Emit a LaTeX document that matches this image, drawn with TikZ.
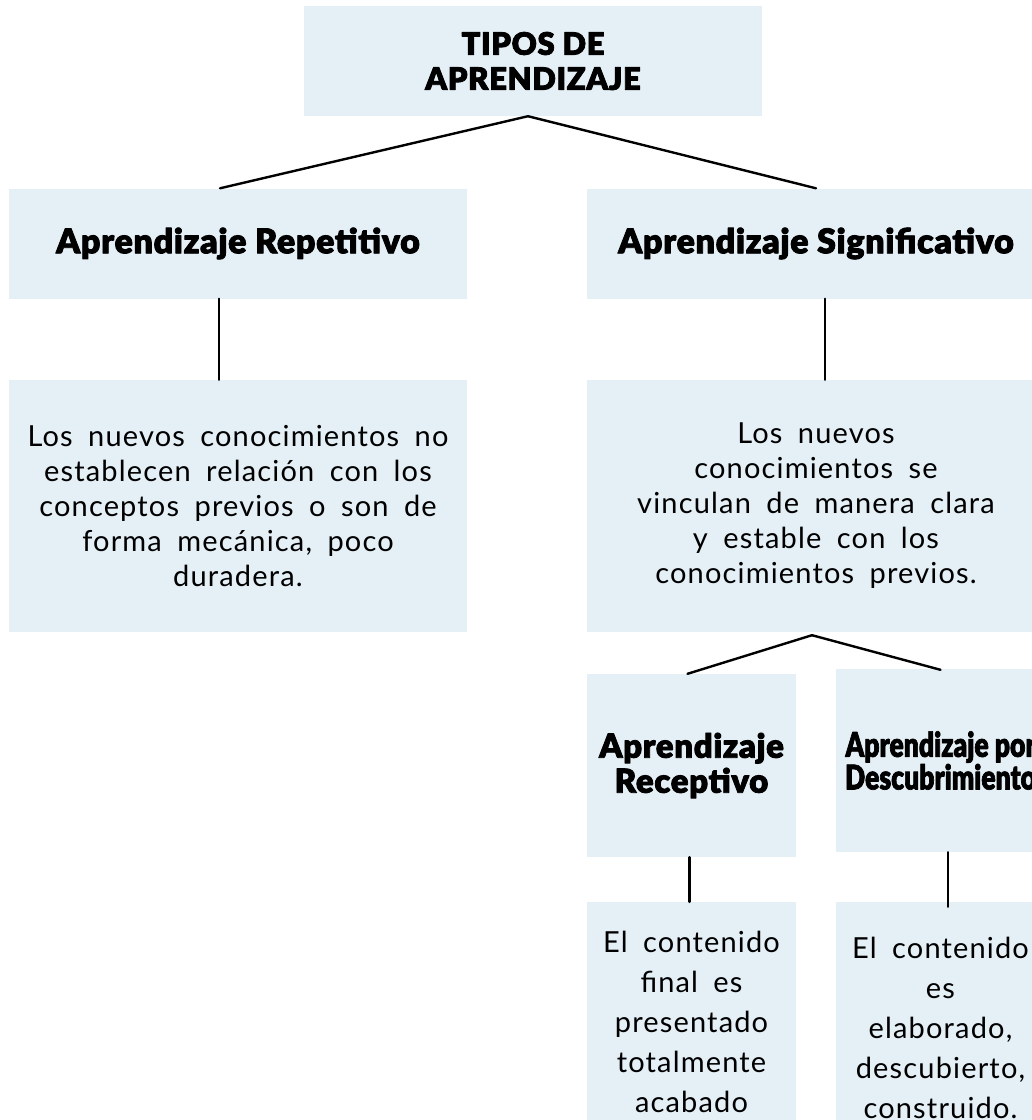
\documentclass[tikz,border=0pt]{standalone}
\usepackage{fontspec}
\setmainfont{Lato}
\newfontfamily\headfont{Lato Black}[FakeBold=2.5, LetterSpace=2]
\newfontfamily\headcond{Lato Black}[FakeBold=2, FakeStretch=0.78]
\newfontfamily\bodyfont{Lato}[LetterSpace=4, WordSpace=1.8]
\usetikzlibrary{calc}
\definecolor{boxblue}{RGB}{228,239,246}
\def\bw{458}
\def\bh{110}
\def\sw{209}

\begin{document}
\begin{tikzpicture}[x=1pt, y=-1pt, line cap = round, line join = round,
	box/.style = {fill=boxblue, inner sep=0pt, align=center, text=black},
	head/.style = {box, font=\headfont\fontsize{34}{35}\selectfont},
	desc/.style = {box, font=\bodyfont\fontsize{29}{35}\selectfont},
	conn/.style = {line width=2.4pt, black}]
		% Frame
		\useasboundingbox (0,0) rectangle (1032,1120);
		\clip (0,0) rectangle (1032,1120);
		
		% Top
		\node[box, font=\headfont\fontsize{31}{35}\selectfont,
			  minimum width=\bw, minimum height=\bh] (tipos) at (533,61) {TIPOS DE\\APRENDIZAJE};
		
		% Level 1
		\node[head, minimum width=\bw, minimum height=\bh] (rep) at (238,243.5) {Aprendizaje Repetitivo};
		\node[head, minimum width=\bw, minimum height=\bh] (sig) at (816,243.5) {Aprendizaje Significativo};
		
		% Descriptions
		\node[desc, minimum width=\bw, minimum height=252] (repdesc) at (238,506)
			{Los nuevos conocimientos no\\establecen relación con los\\conceptos previos o son de\\forma mecánica, poco\\duradera.};
		\node[desc, minimum width=\bw, minimum height=252] (sigdesc) at (816,506)
			{Los nuevos\\conocimientos se\\vinculan de manera clara\\y estable con los\\conocimientos previos.};
		
		% Level 2
		\node[box, font=\headfont\fontsize{33}{35}\selectfont,
			  minimum width=\sw, minimum height=183] (rec) at (691.5,765.5) {Aprendizaje\\Receptivo};
		\node[box, font=\headcond\fontsize{34}{30}\selectfont,
			  minimum width=\sw, minimum height=183] (descu) at (940.5,760.5) {Aprendizaje por\\Descubrimiento};
		
		% Level 2 descriptions
		\node[desc, font=\bodyfont\fontsize{29}{40}\selectfont,
			  minimum width=\sw, minimum height=240] (recdesc) at (691.5,1022) 
			{El contenido\\final es\\presentado\\totalmente\\acabado};
		\node[desc, font=\bodyfont\fontsize{29}{40}\selectfont,
			  minimum width=\sw, minimum height=252] (descudesc) at (940.5,1028)
			{El contenido\\es\\elaborado,\\descubierto,\\construido.};
		
		% Lines
		\draw[conn] ([xshift=-5]tipos.south) -- ([xshift=-18]rep.north);
		\draw[conn] ([xshift=-5]tipos.south) -- (sig.north);
		\draw[conn] ([xshift=-19]rep.south) -- ([xshift=-19]repdesc.north);
		\draw[conn] ([xshift=9]sig.south) -- ([xshift=9]sigdesc.north);
		\draw[conn] ([xshift=-4,yshift=-3]sigdesc.south) -- ([xshift=-4]rec.north);
		\draw[conn] ([xshift=-4,yshift=-3]sigdesc.south) -- ([yshift=-1]descu.north);
		\draw[conn] ([xshift=-2]rec.south) -- ([xshift=-2]recdesc.north);
		\draw[conn] ([xshift=7.5]descu.south) -- ([xshift=7.5,yshift=-5]descudesc.north);
	\end{tikzpicture}
\end{document}
